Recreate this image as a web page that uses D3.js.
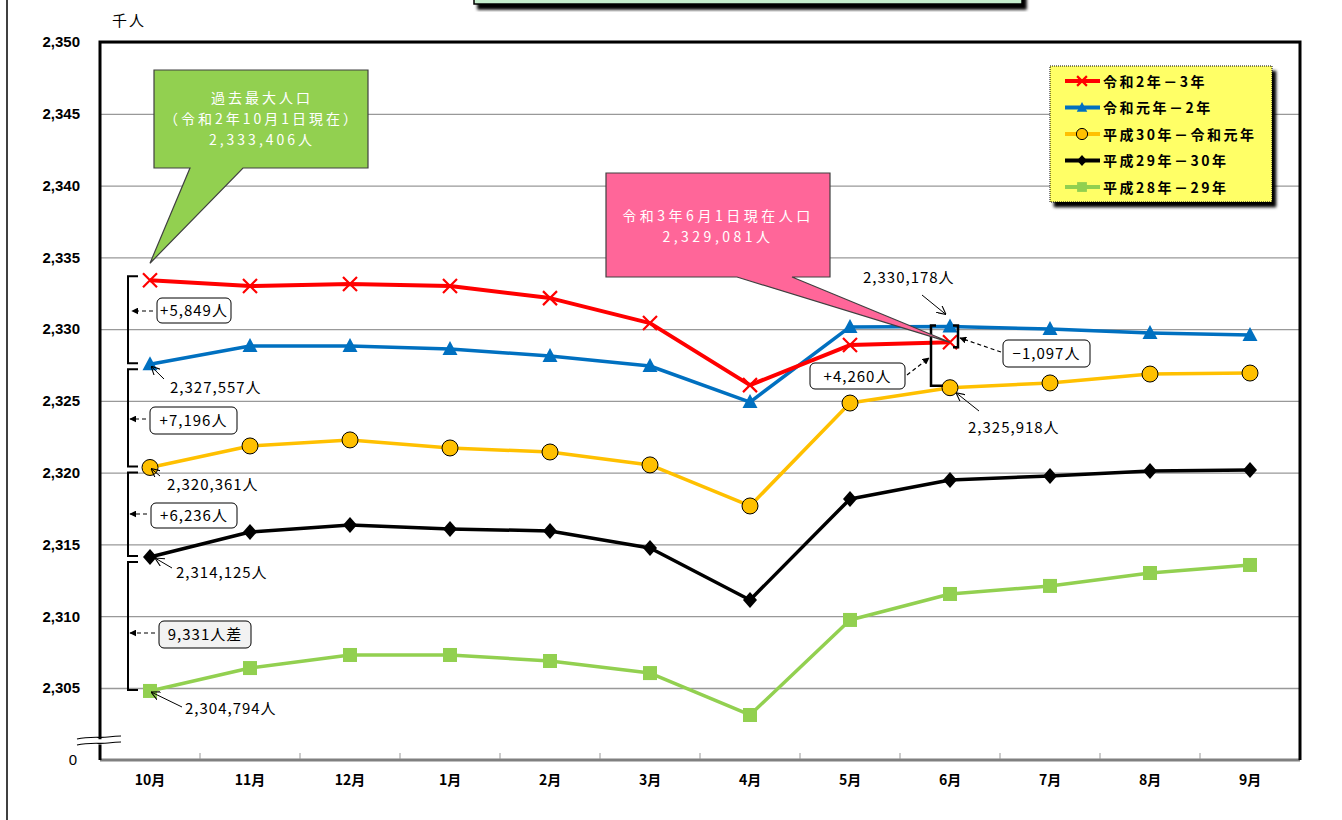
<!DOCTYPE html>
<html>
<head>
<meta charset="utf-8">
<script src="https://cdn.jsdelivr.net/npm/d3@7"></script>
<style>
  body { margin: 0; background: #fff; }
  text { font-family: "Noto Sans CJK JP", "Noto Sans", sans-serif; }
</style>
</head>
<body>
<svg id="chart" width="1342" height="820"></svg>
<script>
// months on the x axis (Oct -> Sep)
var months = ["10月", "11月", "12月", "1月", "2月", "3月", "4月", "5月", "6月", "7月", "8月", "9月"];

// population, thousands of people
var r2_3  = [2333.406, 2333.00, 2333.14, 2333.00, 2332.16, 2330.42, 2326.10, 2328.89, 2329.081];
var r1_2  = [2327.557, 2328.82, 2328.82, 2328.61, 2328.13, 2327.43, 2324.92, 2330.15, 2330.178, 2330.01, 2329.73, 2329.59];
var h30_r1 = [2320.361, 2321.86, 2322.28, 2321.72, 2321.44, 2320.54, 2317.68, 2324.85, 2325.918, 2326.25, 2326.87, 2326.94];
var h29_30 = [2314.125, 2315.87, 2316.35, 2316.08, 2315.94, 2314.75, 2311.13, 2318.17, 2319.49, 2319.77, 2320.12, 2320.19];
var h28_29 = [2304.794, 2306.39, 2307.30, 2307.30, 2306.88, 2306.04, 2303.12, 2309.74, 2311.55, 2312.11, 2313.01, 2313.57];

var seriesNames = ["令和2年－3年", "令和元年－2年", "平成30年－令和元年", "平成29年－30年", "平成28年－29年"];
var yTicks = [2305, 2310, 2315, 2320, 2325, 2330, 2335, 2340, 2345, 2350];

var svg = d3.select("#chart");
var fmt = d3.format(",");

var x = d3.scaleBand().domain(months).range([100, 1300]);
var y = d3.scaleLinear().domain([2305, 2350]).range([688, 42]);
function px(i) { return x(months[i]) + x.bandwidth() / 2; }

// defs: arrowheads, shadow
var defs = svg.append("defs");
defs.append("marker").attr("id", "arrowFill")
  .attr("viewBox", "0 0 10 10").attr("refX", 9).attr("refY", 5)
  .attr("markerWidth", 7).attr("markerHeight", 7).attr("markerUnits", "userSpaceOnUse")
  .attr("orient", "auto")
  .append("path").attr("d", "M0,0L10,5L0,10z").attr("fill", "#000");
defs.append("marker").attr("id", "arrowOpen")
  .attr("viewBox", "0 0 10 10").attr("refX", 10).attr("refY", 5)
  .attr("markerWidth", 9).attr("markerHeight", 9).attr("markerUnits", "userSpaceOnUse")
  .attr("orient", "auto")
  .append("path").attr("d", "M0,0L10,5L0,10").attr("fill", "none").attr("stroke", "#000").attr("stroke-width", 1.2);
var shadow = defs.append("filter").attr("id", "shadow")
  .attr("x", "-10%").attr("y", "-10%").attr("width", "130%").attr("height", "140%");
shadow.append("feGaussianBlur").attr("in", "SourceAlpha").attr("stdDeviation", 1.8);
shadow.append("feOffset").attr("dx", 4).attr("dy", 5).attr("result", "ob");
var fm = shadow.append("feMerge");
fm.append("feMergeNode").attr("in", "ob");
fm.append("feMergeNode").attr("in", "SourceGraphic");

// page frame line and title box remnant at the top
svg.append("line").attr("x1", 7).attr("x2", 7).attr("y1", 0).attr("y2", 820)
  .attr("stroke", "#000").attr("stroke-width", 1.5);
svg.append("rect").attr("x", 474).attr("y", -20).attr("width", 548).attr("height", 24)
  .attr("fill", "#c6efce").attr("stroke", "#000").attr("stroke-width", 1.5)
  .attr("filter", "url(#shadow)");

// gridlines
svg.append("g").attr("transform", "translate(100,0)")
  .call(d3.axisLeft(y).tickValues(yTicks).tickSize(-1200).tickFormat(""))
  .call(function (g) {
    g.select(".domain").remove();
    g.selectAll("line").attr("stroke", "#999").attr("stroke-width", 1.3);
  });

// y tick labels
svg.append("g").attr("transform", "translate(80,0)")
  .call(d3.axisLeft(y).tickValues(yTicks).tickSize(0).tickPadding(0).tickFormat(fmt))
  .call(function (g) {
    g.select(".domain").remove();
    g.selectAll("text").attr("font-size", 15).attr("font-weight", "bold")
      .attr("fill", "#000").style("font-family", "'Liberation Sans', Arial, sans-serif");
  });
svg.append("text").attr("x", 73).attr("y", 765).attr("text-anchor", "middle")
  .attr("font-size", 15).style("font-family", "'Liberation Sans', Arial, sans-serif").text("0");
svg.append("text").attr("x", 112).attr("y", 26).attr("font-size", 15)
  .attr("letter-spacing", 2).text("千人");

// x axis
svg.append("line").attr("x1", 100).attr("x2", 1300).attr("y1", 760).attr("y2", 760)
  .attr("stroke", "#808080").attr("stroke-width", 3);
svg.append("g").selectAll("line").data(months.slice(1)).join("line")
  .attr("x1", function (d) { return x(d); }).attr("x2", function (d) { return x(d); })
  .attr("y1", 759).attr("y2", 753).attr("stroke", "#999").attr("stroke-width", 1);
svg.append("g").attr("transform", "translate(0,772)")
  .call(d3.axisBottom(x).tickSize(0).tickPadding(0))
  .call(function (g) {
    g.select(".domain").remove();
    g.selectAll("text").attr("font-size", 14).attr("font-weight", "bold").attr("fill", "#000")
      .attr("dy", "0.9em").style("font-family", "'Noto Sans CJK JP', sans-serif");
  });

// plot frame
svg.append("path").attr("d", "M100,741V42H1300V760")
  .attr("fill", "none").attr("stroke", "#000").attr("stroke-width", 3);
svg.append("line").attr("x1", 100).attr("x2", 100).attr("y1", 744).attr("y2", 760)
  .attr("stroke", "#000").attr("stroke-width", 3);
// axis break marks
svg.append("path").attr("d", "M77,741 C90,738 100,740 108,739 S117,738 121,738 L121,744 C110,744 102,745 90,744 S80,745 77,746Z")
  .attr("fill", "#fff");
svg.append("path").attr("d", "M77,739 C90,736 100,738 108,737 S117,736 121,736")
  .attr("fill", "none").attr("stroke", "#000").attr("stroke-width", 1.2);
svg.append("path").attr("d", "M77,745 C90,742 100,744 108,743 S117,742 121,742")
  .attr("fill", "none").attr("stroke", "#000").attr("stroke-width", 1.2);

// series
var series = [
  { name: seriesNames[4], values: h28_29, color: "#92d050", marker: "square", width: 3.5 },
  { name: seriesNames[3], values: h29_30, color: "#000000", marker: "diamond", width: 3.5 },
  { name: seriesNames[2], values: h30_r1, color: "#ffc000", marker: "circle", width: 3.5 },
  { name: seriesNames[1], values: r1_2, color: "#0070c0", marker: "triangle", width: 3.5 },
  { name: seriesNames[0], values: r2_3, color: "#ff0000", marker: "x", width: 4 }
];

function drawMarker(g, type, cx, cy, color, s) {
  if (type === "square") {
    g.append("rect").attr("x", cx - 7 * s).attr("y", cy - 7 * s)
      .attr("width", 14 * s).attr("height", 14 * s).attr("fill", color);
  } else if (type === "diamond") {
    g.append("path").attr("d", "M" + cx + "," + (cy - 8 * s) + "L" + (cx + 7 * s) + "," + cy +
      "L" + cx + "," + (cy + 8 * s) + "L" + (cx - 7 * s) + "," + cy + "Z").attr("fill", color);
  } else if (type === "circle") {
    g.append("circle").attr("cx", cx).attr("cy", cy).attr("r", 8 * s)
      .attr("fill", color).attr("stroke", "#000").attr("stroke-width", 1);
  } else if (type === "triangle") {
    g.append("path").attr("d", "M" + cx + "," + (cy - 8 * s) + "L" + (cx + 7.5 * s) + "," + (cy + 6 * s) +
      "L" + (cx - 7.5 * s) + "," + (cy + 6 * s) + "Z").attr("fill", color);
  } else if (type === "x") {
    g.append("path").attr("d", "M" + (cx - 7 * s) + "," + (cy - 7 * s) + "L" + (cx + 7 * s) + "," + (cy + 7 * s) +
      "M" + (cx - 7 * s) + "," + (cy + 7 * s) + "L" + (cx + 7 * s) + "," + (cy - 7 * s))
      .attr("stroke", color).attr("stroke-width", 2.2).attr("fill", "none");
  }
}

var line = d3.line().x(function (d, i) { return px(i); }).y(function (d) { return y(d); });
series.forEach(function (s) {
  var g = svg.append("g");
  g.append("path").datum(s.values).attr("d", line)
    .attr("fill", "none").attr("stroke", s.color).attr("stroke-width", s.width)
    .attr("stroke-linejoin", "round");
  s.values.forEach(function (v, i) { drawMarker(g, s.marker, px(i), y(v), s.color, 1); });
});

// helpers for annotations
function roundBox(x0, y0, w, h, label, fill) {
  svg.append("rect").attr("x", x0).attr("y", y0).attr("width", w).attr("height", h)
    .attr("rx", 5).attr("fill", fill || "#fff").attr("stroke", "#000").attr("stroke-width", 1);
  svg.append("text").attr("x", x0 + w / 2).attr("y", y0 + h / 2 + 5.5).attr("text-anchor", "middle")
    .attr("font-size", 15).attr("letter-spacing", 1).text(label);
}
function dashArrow(x1, y1, x2, y2) {
  svg.append("line").attr("x1", x1).attr("y1", y1).attr("x2", x2).attr("y2", y2)
    .attr("stroke", "#000").attr("stroke-width", 1.2).attr("stroke-dasharray", "4,3")
    .attr("marker-end", "url(#arrowFill)");
}
function thinArrow(x1, y1, x2, y2) {
  svg.append("line").attr("x1", x1).attr("y1", y1).attr("x2", x2).attr("y2", y2)
    .attr("stroke", "#000").attr("stroke-width", 1).attr("marker-end", "url(#arrowOpen)");
}
function valueLabel(tx, ty, v) {
  svg.append("text").attr("x", tx).attr("y", ty).attr("font-size", 15).attr("letter-spacing", 1)
    .text(fmt(Math.round(v * 1000)) + "人");
}
function diffText(a, b, sign) {
  var d = Math.round((a - b) * 1000);
  return (sign ? (d < 0 ? "−" : "+") : "") + fmt(Math.abs(d)) + "人";
}

// October brackets between series
var octVals = [r2_3[0], r1_2[0], h30_r1[0], h29_30[0], h28_29[0]];
octVals.slice(0, 4).forEach(function (v, i) {
  var y0 = y(v) + (i === 0 ? -4 : 5), y1 = y(octVals[i + 1]) - 1;
  svg.append("path").attr("d", "M138," + y0 + "H128V" + y1 + "H138")
    .attr("fill", "none").attr("stroke", "#000").attr("stroke-width", 2);
});
roundBox(157, 298, 74, 25, diffText(r2_3[0], r1_2[0], true));
dashArrow(153, 311, 132, 311);
roundBox(150, 407, 87, 27, diffText(r1_2[0], h30_r1[0], true));
dashArrow(146, 419, 130, 419);
roundBox(151, 503, 86, 25, diffText(h30_r1[0], h29_30[0], true));
dashArrow(147, 514, 130, 514);
roundBox(159, 621, 92, 27, diffText(h29_30[0], h28_29[0], false) + "差", "#f2f2f2");
dashArrow(155, 633, 130, 633);

// October value labels
valueLabel(170, 393, r1_2[0]);
thinArrow(164, 379, px(0) + 1, y(r1_2[0]) + 2);
valueLabel(167, 490, h30_r1[0]);
thinArrow(160, 476, px(0) + 1, y(h30_r1[0]) + 1);
valueLabel(176, 578, h29_30[0]);
thinArrow(172, 568, px(0) + 5, y(h29_30[0]) + 1);
valueLabel(185, 714, h28_29[0]);
thinArrow(182, 707, px(0) + 1, y(h28_29[0]) + 1);

// June annotations
var jx = px(8);
svg.append("path").attr("d", "M936," + (y(r1_2[8]) - 1) + "H931V" + (y(h30_r1[8]) - 2) + "H943")
  .attr("fill", "none").attr("stroke", "#000").attr("stroke-width", 2.5);
svg.append("path").attr("d", "M953," + (y(r1_2[8]) - 1) + "H958V" + (y(r2_3[8]) + 5) + "H953")
  .attr("fill", "none").attr("stroke", "#000").attr("stroke-width", 2.5);
roundBox(810, 363, 95, 26, diffText(r1_2[8], h30_r1[8], true));
dashArrow(907, 375, 929, 358);
roundBox(1003, 340, 87, 27, diffText(r2_3[8], r1_2[8], true));
dashArrow(1001, 352, 960, 338);
valueLabel(863, 283, r1_2[8]);
thinArrow(922, 295, jx - 4, y(r1_2[8]) - 12);
valueLabel(968, 433, h30_r1[8]);
thinArrow(979, 411, jx + 6, y(h30_r1[8]) + 5);

// callout: maximum population
var gx = px(0), gy = y(r2_3[0]) - 17;
svg.append("path")
  .attr("d", "M154,70H368V168H243L" + gx + "," + gy + "L190,168H154Z")
  .attr("fill", "#92d050").attr("stroke", "#404040").attr("stroke-width", 1.2);
var gLines = ["過去最大人口", "（令和2年10月1日現在）", fmt(Math.round(r2_3[0] * 1000)) + "人"];
svg.append("g").selectAll("text").data(gLines).join("text")
  .attr("x", 262).attr("y", function (d, i) { return 103 + i * 21; })
  .attr("text-anchor", "middle").attr("fill", "#fff").attr("font-size", 14)
  .attr("letter-spacing", 3).text(function (d) { return d; });

// callout: current population
var pxTip = jx, pyTip = y(r2_3[8]);
svg.append("path")
  .attr("d", "M606,173H830V277H792L" + pxTip + "," + pyTip + "L737,277H606Z")
  .attr("fill", "#ff6699").attr("stroke", "#404040").attr("stroke-width", 1.2);
var pLines = ["令和3年6月1日現在人口", fmt(Math.round(r2_3[8] * 1000)) + "人"];
svg.append("g").selectAll("text").data(pLines).join("text")
  .attr("x", 718).attr("y", function (d, i) { return 221 + i * 20.5; })
  .attr("text-anchor", "middle").attr("fill", "#fff").attr("font-size", 14)
  .attr("letter-spacing", 3.5).text(function (d) { return d; });

// legend
var legend = svg.append("g");
legend.append("rect").attr("x", 1050).attr("y", 66).attr("width", 222).attr("height", 136)
  .attr("fill", "#ffff66").attr("stroke", "#000").attr("stroke-width", 1)
  .attr("stroke-dasharray", "1,1").attr("filter", "url(#shadow)");
var legendOrder = series.slice().reverse();
legendOrder.forEach(function (s, i) {
  var ly = 81 + i * 26.5;
  legend.append("line").attr("x1", 1065).attr("x2", 1100).attr("y1", ly).attr("y2", ly)
    .attr("stroke", s.color).attr("stroke-width", 4);
  drawMarker(legend, s.marker, 1082, ly, s.color, 0.7);
  legend.append("text").attr("x", 1103).attr("y", ly + 5.5).attr("font-size", 14)
    .attr("font-weight", "bold").attr("letter-spacing", 2.5).text(s.name);
});
</script>
</body>
</html>
